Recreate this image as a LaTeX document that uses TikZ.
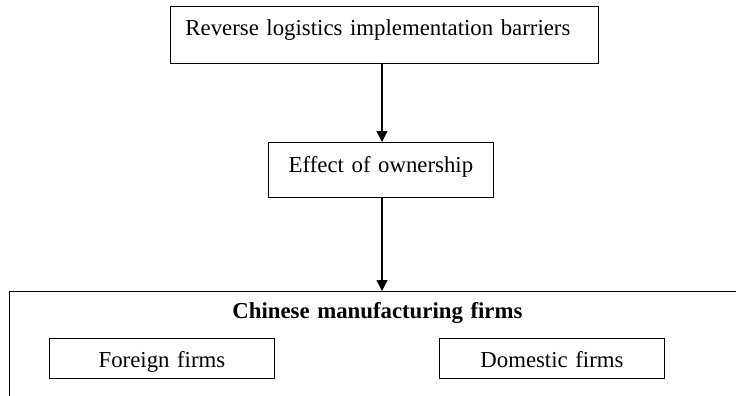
\documentclass[tikz,border=0pt]{standalone}
\usepackage{fontspec}
\setmainfont{Liberation Serif}
\usetikzlibrary{arrows.meta}
\begin{document}
\begin{tikzpicture}[x=1pt,y=-1pt,
  box/.style={draw, line width=0.9pt, rectangle, inner sep=0pt, anchor=north west,
    align=center, font=\fontsize{22.8}{27}\selectfont},
  arr/.style={line width=1.4pt, -{Triangle[length=11pt,width=11pt]}}]
\useasboundingbox (0,0) rectangle (736,396);
\clip (0,0) rectangle (736,396);
\node[box, align=left, text width=398pt, inner xsep=15pt, text height=29pt, text depth=28pt]
  (barriers) at (170,6) {Reverse logistics implementation barriers};
\node[box, text width=225pt, text height=30pt, text depth=25pt]
  (effect) at (268,142) {Effect of ownership};
\node[box, text width=736pt, text height=27pt, text depth=120pt, font=\fontsize{22.8}{27}\selectfont\bfseries]
  (firms) at (9,291) {Chinese manufacturing firms};
\node[box, text width=225pt, text height=29pt, text depth=11pt]
  (foreign) at (49,338) {Foreign firms};
\node[box, text width=225pt, text height=29pt, text depth=11pt]
  (domestic) at (439,338) {Domestic firms};
\coordinate (a1) at (382,63);
\coordinate (a2) at (382,197);
\draw[arr] (a1) -- (a1 |- effect.north);
\draw[arr] (a2) -- (a2 |- firms.north);
\end{tikzpicture}
\end{document}
